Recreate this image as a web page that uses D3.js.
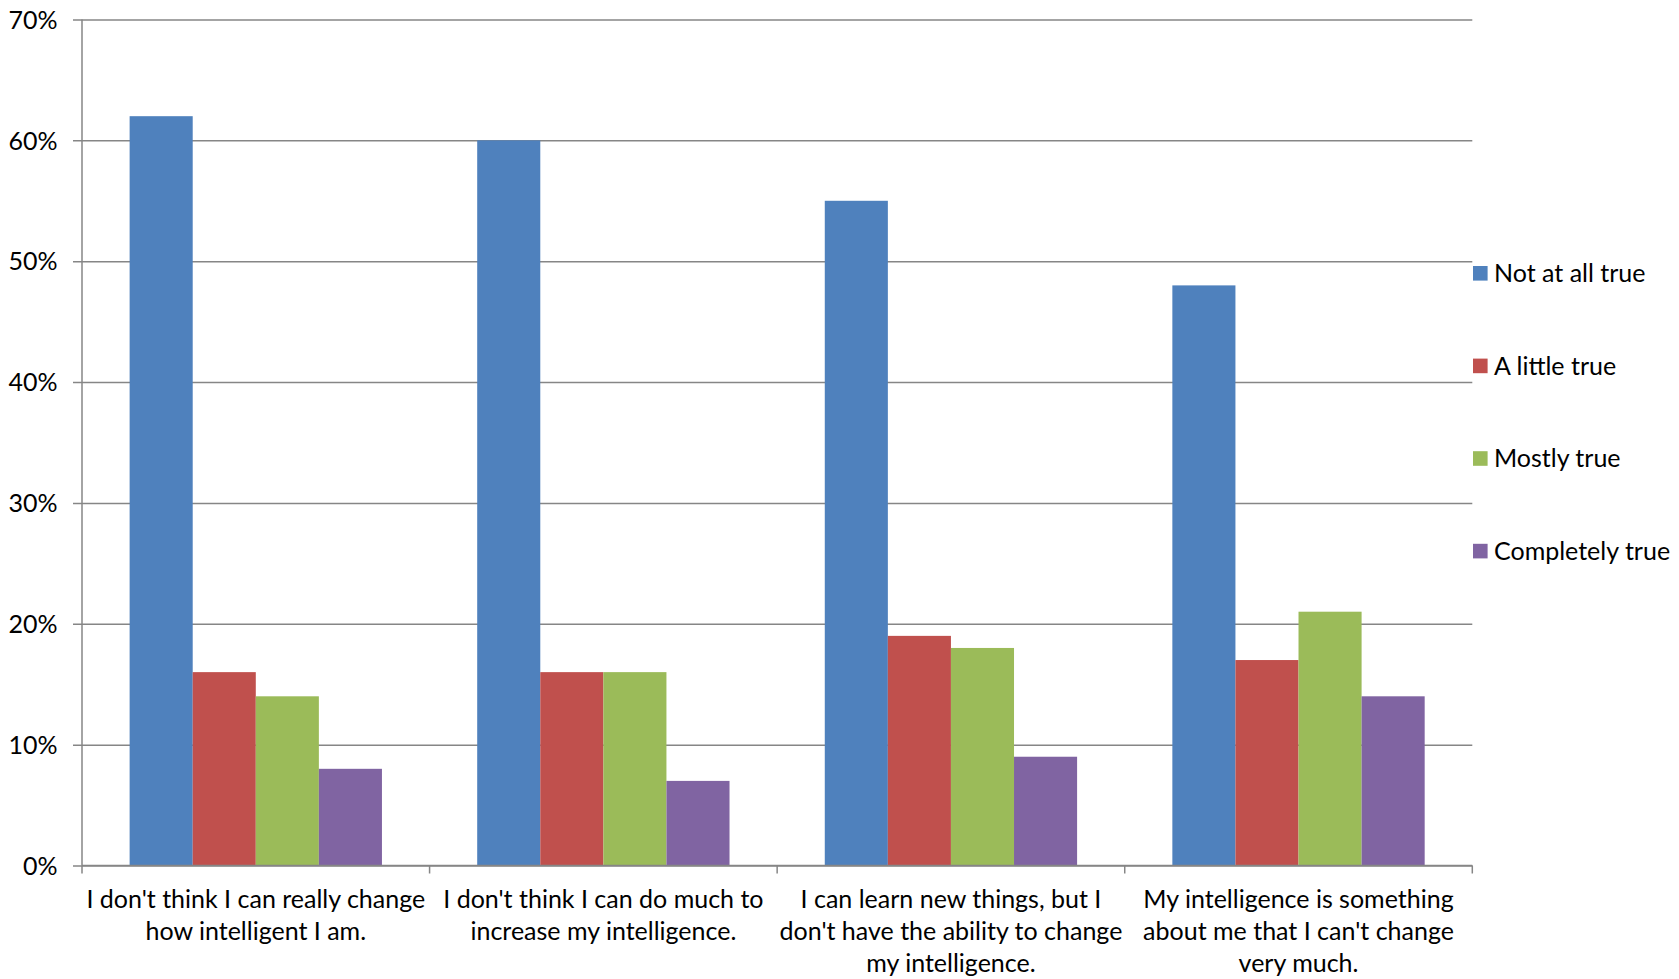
<!DOCTYPE html>
<html>
<head>
<meta charset="utf-8">
<script src="https://cdn.jsdelivr.net/npm/d3@7"></script>
<style>
  html, body { margin: 0; padding: 0; background: #fff; }
  svg { display: block; }
  text { font-family: Lato, "Open Sans", sans-serif; fill: #000; }
</style>
</head>
<body>
<svg id="chart" width="1679" height="979"></svg>
<script>
// Survey statements (category axis), wrapped as shown
const categories = [
  ["I don't think I can really change", "how intelligent I am."],
  ["I don't think I can do much to", "increase my intelligence."],
  ["I can learn new things, but I", "don't have the ability to change", "my intelligence."],
  ["My intelligence is something", "about me that I can't change", "very much."]
];
const seriesNames = ["Not at all true", "A little true", "Mostly true", "Completely true"];
const seriesColors = ["#4F81BD", "#C0504D", "#9BBB59", "#8064A2"];

// Percent of respondents per answer, one array per series
const notAtAllTrue   = [62, 60, 55, 48];
const aLittleTrue    = [16, 16, 19, 17];
const mostlyTrue     = [14, 16, 18, 21];
const completelyTrue = [8, 7, 9, 14];
const seriesValues = [notAtAllTrue, aLittleTrue, mostlyTrue, completelyTrue];

const yTicks = [0, 10, 20, 30, 40, 50, 60, 70];

const svg = d3.select("#chart");
const plot = { left: 82, right: 1472.3, top: 19.5, bottom: 865.5 };
const gridColor = "#868686";
const fontSize = "25px";

const catIndex = categories.map((_, i) => i);
const x0 = d3.scaleBand().domain(catIndex).range([plot.left, plot.right]).padding(0);
const y = d3.scaleLinear().domain([0, 70]).range([plot.bottom, plot.top]);

// Bars occupy 4 widths out of 4 + 1.51 gap in each category band
const groupW = x0.bandwidth() * 4 / (4 + 1.51);
const groupOff = (x0.bandwidth() - groupW) / 2;
const x1 = d3.scaleBand().domain(d3.range(seriesNames.length)).range([groupOff, groupOff + groupW]).padding(0);

// Horizontal gridlines with left ticks
const yAxis = d3.axisLeft(y).tickValues(yTicks).tickSize(-(plot.right - plot.left)).tickFormat(d => d + "%");
const gy = svg.append("g").attr("transform", `translate(${plot.left},0)`).call(yAxis);
gy.select(".domain").remove();
gy.selectAll(".tick line").attr("stroke", gridColor).attr("stroke-width", 1.5).attr("x1", -9);
gy.selectAll(".tick text").style("font-size", fontSize).attr("dy", "0.35em").attr("x", -24.5);

// Vertical value axis line
svg.append("line")
  .attr("x1", plot.left).attr("x2", plot.left)
  .attr("y1", plot.top).attr("y2", plot.bottom)
  .attr("stroke", gridColor).attr("stroke-width", 1.5);

// Bars
const groups = svg.append("g").selectAll("g")
  .data(catIndex).join("g")
  .attr("transform", i => `translate(${x0(i)},0)`);
groups.selectAll("rect")
  .data(i => seriesValues.map((vals, s) => ({ s, v: vals[i] })))
  .join("rect")
  .attr("x", d => x1(d.s))
  .attr("width", x1.bandwidth())
  .attr("y", d => y(d.v))
  .attr("height", d => y(0) - y(d.v))
  .attr("fill", d => seriesColors[d.s]);

// Category axis: baseline plus tick marks at band boundaries
svg.append("line")
  .attr("x1", plot.left).attr("x2", plot.right)
  .attr("y1", plot.bottom).attr("y2", plot.bottom)
  .attr("stroke", gridColor).attr("stroke-width", 1.5);
const boundaries = catIndex.map(i => x0(i)).concat([plot.right]);
svg.append("g").selectAll("line")
  .data(boundaries).join("line")
  .attr("x1", d => d).attr("x2", d => d)
  .attr("y1", plot.bottom).attr("y2", plot.bottom + 8)
  .attr("stroke", gridColor).attr("stroke-width", 1.5);

// Category labels
const labels = svg.append("g").selectAll("text")
  .data(catIndex).join("text")
  .attr("text-anchor", "middle")
  .style("font-size", fontSize)
  .attr("transform", i => `translate(${x0(i) + x0.bandwidth() / 2},0)`);
labels.selectAll("tspan")
  .data(i => categories[i])
  .join("tspan")
  .attr("x", 0)
  .attr("y", (d, k) => 908 + k * 32.1)
  .text(d => d);

// Legend
const legend = svg.append("g").selectAll("g")
  .data(seriesNames).join("g")
  .attr("transform", (d, i) => `translate(1473,${273.3 + i * 92.6})`);
legend.append("rect")
  .attr("x", 0).attr("y", -7.3).attr("width", 14.6).attr("height", 14.6)
  .attr("fill", (d, i) => seriesColors[i]);
legend.append("text")
  .attr("x", 21).attr("dy", "0.35em")
  .style("font-size", fontSize)
  .text(d => d);
</script>
</body>
</html>
